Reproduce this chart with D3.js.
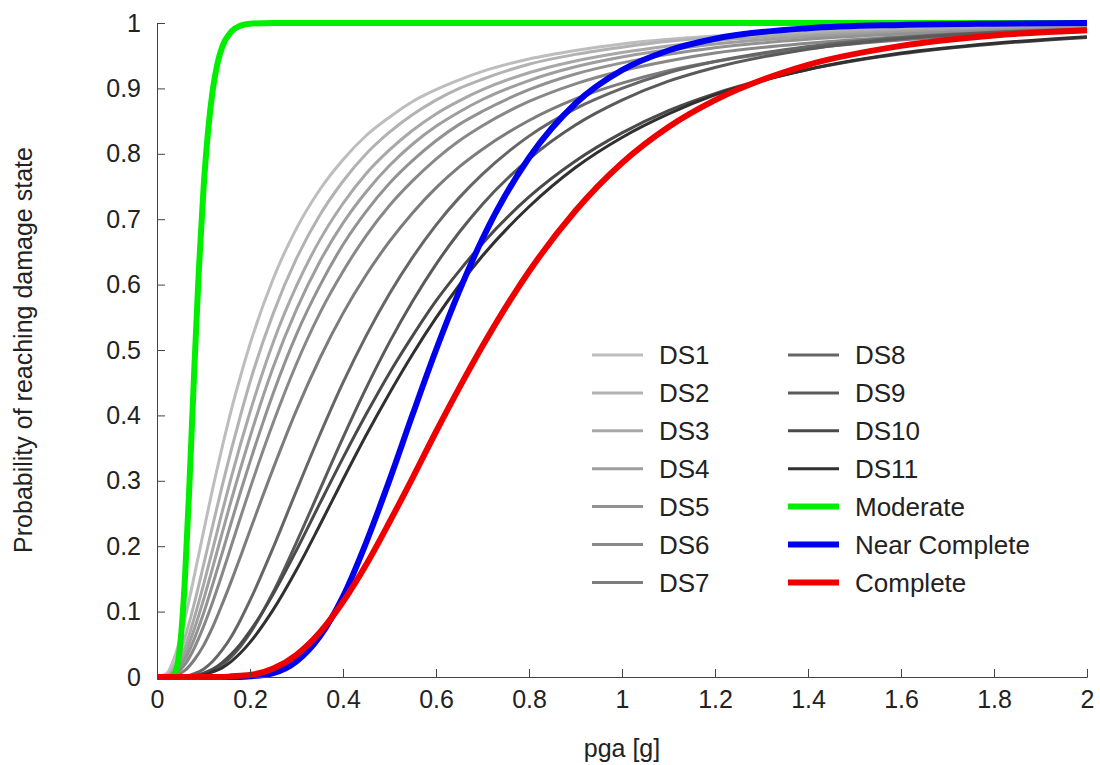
<!DOCTYPE html>
<html><head><meta charset="utf-8">
<script src="https://cdn.jsdelivr.net/npm/d3@7"></script>
<style>body{margin:0;background:#fff}svg{display:block}text{font-family:"Liberation Sans",Arial,sans-serif}</style>
</head><body><svg id="c" width="1100" height="765"></svg>
<script>
// pga grid [g] shared by the DS curves and the Near Complete / Complete curves
const pga=[0,0.02,0.04,0.06,0.08,0.1,0.12,0.14,0.16,0.18,0.2,0.25,0.3,0.35,0.4,0.45,0.5,0.55,0.6,0.65,0.7,0.8,0.9,1.0,1.1,1.2,1.4,1.6,1.8,2.0];
const DS1=[0,0.005,0.035,0.089,0.154,0.222,0.289,0.351,0.409,0.461,0.509,0.609,0.686,0.745,0.791,0.828,0.856,0.880,0.898,0.913,0.926,0.945,0.958,0.968,0.975,0.980,0.987,0.991,0.994,0.996];
const DS2=[0,0.002,0.021,0.060,0.112,0.171,0.232,0.292,0.348,0.401,0.451,0.556,0.640,0.706,0.758,0.800,0.833,0.860,0.882,0.900,0.914,0.937,0.952,0.963,0.972,0.978,0.986,0.991,0.994,0.996];
const DS3=[0,0.001,0.015,0.045,0.090,0.141,0.196,0.252,0.306,0.357,0.405,0.512,0.598,0.668,0.724,0.770,0.806,0.836,0.861,0.881,0.898,0.924,0.942,0.955,0.965,0.973,0.982,0.988,0.992,0.994];
const DS4=[0,0.001,0.011,0.035,0.073,0.118,0.168,0.220,0.271,0.320,0.367,0.474,0.562,0.635,0.694,0.742,0.782,0.815,0.842,0.864,0.883,0.912,0.933,0.948,0.959,0.968,0.979,0.986,0.990,0.993];
const DS5=[0,0.001,0.008,0.027,0.058,0.097,0.142,0.189,0.237,0.284,0.329,0.434,0.524,0.598,0.661,0.712,0.755,0.790,0.820,0.845,0.865,0.898,0.922,0.939,0.952,0.962,0.975,0.983,0.988,0.992];
const DS6=[0,0,0.005,0.019,0.044,0.077,0.115,0.157,0.201,0.245,0.288,0.389,0.479,0.556,0.620,0.675,0.721,0.759,0.792,0.820,0.843,0.880,0.907,0.927,0.942,0.954,0.969,0.979,0.986,0.990];
const DS7=[0,0,0.002,0.010,0.026,0.048,0.077,0.111,0.147,0.185,0.224,0.319,0.408,0.487,0.556,0.615,0.666,0.710,0.748,0.780,0.807,0.851,0.884,0.908,0.927,0.941,0.961,0.974,0.982,0.987];
const DS8=[0,0,0,0.001,0.005,0.012,0.024,0.041,0.062,0.088,0.117,0.198,0.285,0.370,0.450,0.522,0.586,0.642,0.691,0.733,0.769,0.827,0.869,0.900,0.924,0.941,0.964,0.978,0.986,0.991];
const DS9=[0,0,0,0,0.001,0.004,0.009,0.018,0.031,0.047,0.067,0.130,0.206,0.286,0.366,0.442,0.512,0.575,0.631,0.680,0.723,0.792,0.844,0.882,0.911,0.932,0.960,0.976,0.985,0.990];
const DS10=[0,0,0,0,0.002,0.006,0.012,0.022,0.035,0.051,0.070,0.127,0.194,0.265,0.335,0.402,0.465,0.522,0.575,0.621,0.663,0.734,0.789,0.832,0.866,0.892,0.929,0.953,0.968,0.978];
const DS11=[0,0,0,0,0.001,0.003,0.008,0.014,0.024,0.037,0.053,0.103,0.164,0.232,0.302,0.370,0.434,0.494,0.549,0.599,0.644,0.719,0.779,0.825,0.861,0.890,0.929,0.954,0.969,0.979];
const nearComplete=[0,0,0,0,0,0,0,0,0,0,0.001,0.006,0.024,0.062,0.123,0.206,0.301,0.402,0.500,0.590,0.670,0.794,0.877,0.928,0.958,0.976,0.992,0.997,0.999,1.000];
const complete=[0,0,0,0,0,0,0,0,0.001,0.002,0.003,0.013,0.034,0.068,0.115,0.172,0.237,0.305,0.375,0.442,0.506,0.620,0.713,0.786,0.841,0.882,0.936,0.965,0.981,0.989];
// Moderate curve has its own finer pga grid
const pgaModerate=[0,0.02,0.03,0.04,0.05,0.06,0.07,0.08,0.09,0.1,0.11,0.12,0.13,0.14,0.16,0.18,0.2,0.25,2.0];
const moderate=[0,0,0,0.008,0.050,0.149,0.299,0.467,0.622,0.746,0.836,0.898,0.938,0.963,0.987,0.996,0.999,1.000,1.000];
const seriesNames=["DS1","DS2","DS3","DS4","DS5","DS6","DS7","DS8","DS9","DS10","DS11","Moderate","Near Complete","Complete"];
const xTicks=[0,0.2,0.4,0.6,0.8,1,1.2,1.4,1.6,1.8,2];
const yTicks=[0,0.1,0.2,0.3,0.4,0.5,0.6,0.7,0.8,0.9,1];

const seriesY=[DS1,DS2,DS3,DS4,DS5,DS6,DS7,DS8,DS9,DS10,DS11,moderate,nearComplete,complete];
const seriesX=seriesY.map((s,i)=>i===11?pgaModerate:pga);
const colors=["#bdbdbd","#b2b2b2","#a8a8a8","#9e9e9e","#929292","#888888","#7c7c7c","#666666","#5a5a5a","#4a4a4a","#303030","#00ee00","#0000ee","#ee0000"];
const svg=d3.select("#c");
const x=d3.scaleLinear().domain([0,2]).range([157,1087]);
const y=d3.scaleLinear().domain([0,1]).range([677,23]);
const line=d3.line().x(d=>x(d[0])).y(d=>y(d[1])).curve(d3.curveMonotoneX);
seriesNames.forEach((n,i)=>{
  const pts=seriesX[i].map((v,k)=>[v,seriesY[i][k]]);
  svg.append("path").attr("d",line(pts)).attr("fill","none").attr("stroke",colors[i]).attr("stroke-width",i<11?3:6).attr("stroke-linejoin","round");
});
const ax=svg.append("g").attr("transform","translate(0,677)").call(d3.axisBottom(x).tickValues(xTicks).tickSize(-8).tickFormat(d3.format("~g")));
ax.selectAll("text").attr("dy","1.1em").style("font-size","25px").attr("fill","#222");
const ay=svg.append("g").attr("transform","translate(157,0)").call(d3.axisLeft(y).tickValues(yTicks).tickSize(-8).tickFormat(d3.format("~g")));
ay.selectAll("text").attr("x",-16).style("font-size","25px").attr("fill","#222");
svg.selectAll(".domain").attr("stroke","#444");
svg.selectAll(".tick line").attr("stroke","#444");
svg.append("text").attr("x",622).attr("y",757).attr("text-anchor","middle").style("font-size","25px").attr("fill","#222").text("pga [g]");
svg.append("text").attr("transform","translate(32,350) rotate(-90)").attr("text-anchor","middle").style("font-size","25px").attr("fill","#222").text("Probability of reaching damage state");
const lg=svg.append("g");
seriesNames.forEach((n,i)=>{
  const col=i<7?0:1, row=i<7?i:i-7;
  const lx=[592,788][col], ly=355+row*37.9;
  lg.append("line").attr("x1",lx).attr("x2",lx+51).attr("y1",ly).attr("y2",ly).attr("stroke",colors[i]).attr("stroke-width",i<11?3:6);
  lg.append("text").attr("x",lx+67).attr("y",ly).attr("dy","0.35em").style("font-size","26px").attr("fill","#222").text(n);
});
</script></body></html>
